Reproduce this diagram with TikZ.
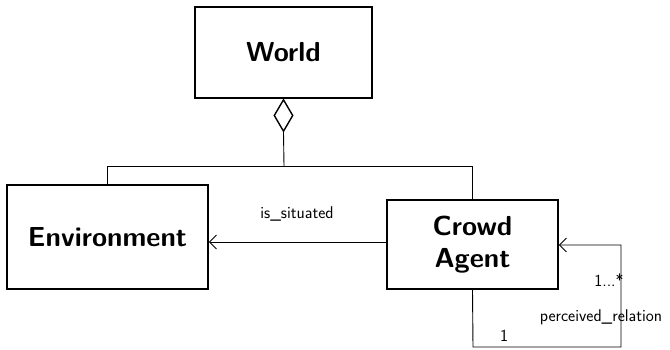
\documentclass[tikz,border=0pt]{standalone}
\usetikzlibrary{arrows.meta,shapes.geometric}
\begin{document}
\begin{tikzpicture}[x=1pt,y=-1pt,
  cls/.style={draw,line width=1.6pt,inner sep=0pt,font=\sffamily\bfseries\fontsize{27.5}{32}\selectfont,align=center},
  conn/.style={line width=0.9pt},
  lbl/.style={font=\sffamily\fontsize{17}{19}\selectfont,inner sep=0pt},
  open/.style={-{Straight Barb[length=7pt,width=14pt,line width=0.9pt]}}]
\useasboundingbox (0,0) rectangle (670,349);
\node[cls,minimum width=177pt,minimum height=91pt] (world) at (283.5,52.5) {World};
\node[cls,minimum width=201pt,minimum height=104pt] (env) at (107.5,237) {Environment};
\node[cls,minimum width=171pt,minimum height=89pt] (agent) at (472.5,244.5) {Crowd\\Agent};
\node[draw,diamond,line width=1.4pt,fill=white,inner sep=0pt,minimum width=19pt,minimum height=32pt,anchor=north] (dia) at (world.south) {};
\coordinate (j) at (284,166);
\coordinate (je) at (env.north |- j);
\coordinate (ja) at (agent.north |- j);
\draw[conn] (dia.south) -- (j);
\draw[conn] (je) -- (ja);
\draw[conn] (je) -- (env.north);
\draw[conn] (ja) -- (agent.north);
\draw[conn,open] (agent.west |- 0,242) -- (env.east |- 0,242);
\node[lbl] (lsit) at (297,214) {is\_situated};
\coordinate (c1) at (473,347);
\coordinate (c2) at (621,347);
\coordinate (c3) at (621,245);
\draw[conn,open] (agent.south) -- (c1) -- (c2) -- (c3) -- (agent.east |- c3);
\node[lbl] (lmany) at (609,280) {1...*};
\node[lbl] (lrel) at (601,317) {perceived\_relation};
\node[lbl] (lone) at (504,336) {1};
\end{tikzpicture}
\end{document}
